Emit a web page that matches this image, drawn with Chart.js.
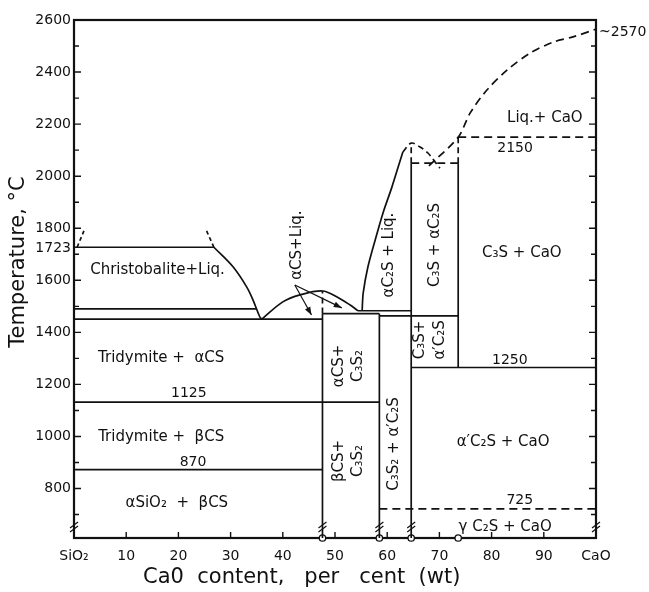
<!DOCTYPE html>
<html>
<head>
<meta charset="utf-8">
<script src="https://cdn.jsdelivr.net/npm/chart.js@4/dist/chart.umd.min.js"></script>
<style>
  html, body { margin: 0; padding: 0; background: #fff; }
  canvas { display: block; }
</style>
</head>
<body>
<canvas id="phase" width="649" height="592"></canvas>
<script>
const FONT = "DejaVu Sans, Verdana, sans-serif";
const INK = "#111";

// axes
const tempMin = 610;
const tempMax = 2600;
const tempTicks = [800, 1000, 1200, 1400, 1600, 1723, 1800, 2000, 2200, 2400, 2600];

// horizontal boundaries (solid)
const tieT = [1727, 1490, 1451, 1132, 873, 1472, 1483, 1463, 1265];
const tieFrom = [0, 0, 0, 0, 0, 47.6, 54.4, 58.5, 64.6];
const tieTo = [26.8, 35.0, 47.6, 58.5, 47.6, 58.5, 64.6, 73.6, 100];

// horizontal boundaries (dashed)
const dashT = [722, 2150, 2050];
const dashFrom = [58.5, 73.6, 64.6];
const dashTo = [100, 100, 73.6];

// compound verticals: CS, C3S2, C2S, C3S
const phaseX = [47.6, 58.5, 64.6, 73.6];
const phaseTop = [1472, 1472, 2050, 2050];
const phaseBase = [610, 610, 610, 1265];

// dashed verticals above the compounds
const riseX = [47.6, 64.6, 73.6];
const riseTop = [1559, 2127, 2150];
const riseBase = [1472, 2050, 2050];

// liquidus curves
const silicaLiqX = [26.8, 30.5, 33.1, 34.3, 35.6, 36.0];
const silicaLiqT = [1727, 1651, 1574, 1524, 1459, 1451];
const csLiqX = [36.0, 40.0, 43.3, 47.6, 50.4, 52.9, 54.4];
const csLiqT = [1451, 1517, 1544, 1559, 1536, 1505, 1483];
const c2sLiqX = [55.2, 55.4, 56.3, 57.7, 59.2, 60.9, 62.1, 63.0];
const c2sLiqT = [1483, 1551, 1651, 1755, 1859, 1958, 2035, 2093];
const c2sTopX = [63.0, 64.6, 66.3, 67.8, 69.2, 70.1];
const c2sTopT = [2093, 2127, 2112, 2089, 2054, 2031];
const limeLiqX = [68.0, 73.6, 75.9, 79.1, 83.0, 87.4, 91.8, 95.6, 100];
const limeLiqT = [2040, 2150, 2243, 2331, 2408, 2473, 2515, 2535, 2565];
const gapLeftX = [0.6, 1.9];
const gapLeftT = [1727, 1790];
const gapRightX = [25.4, 26.8];
const gapRightT = [1790, 1727];

// arrows from the αCS+Liq. label
const arrowX0 = [42.3, 42.3];
const arrowT0 = [1582, 1582];
const arrowX1 = [45.5, 51.3];
const arrowT1 = [1467, 1494];

// axis breaks
const breakX = [0, 47.6, 58.5, 64.6, 100];
const breakT = 652;

// field labels
const fieldText = [
  "Christobalite+Liq.", "Tridymite +  αCS", "Tridymite +  βCS", "αSiO₂  +  βCS",
  "αCS+Liq.", "αC₂S + Liq.", "C₃S + αC₂S", "C₃S+", "α′C₂S", "αCS+", "C₃S₂", "βCS+", "C₃S₂",
  "C₃S₂ + α′C₂S", "α′C₂S + CaO", "γ C₂S + CaO", "C₃S + CaO", "Liq.+ CaO"
];
const fieldX = [16.0, 16.7, 16.7, 19.7, 42.7, 60.3, 69.2, 66.3, 70.1, 50.8, 54.4, 50.8, 54.4,
  61.3, 82.2, 82.6, 85.8, 90.2];
const fieldT = [1640, 1301, 998, 744, 1735, 1697, 1736, 1371, 1371, 1271, 1271, 906, 906,
  971, 979, 652, 1705, 2224];
const fieldUpright = [true, true, true, true, false, false, false, false, false, false, false, false, false,
  false, true, true, true, true];

// isotherm values written on the diagram
const isoText = ["1125", "870", "725", "1250", "2150"];
const isoX = [22.0, 22.8, 85.4, 83.5, 84.5];
const isoT = [1167, 902, 756, 1294, 2108];
const meltNote = "~2570";
const meltNoteT = 2554;

const xTitle = "Ca0  content,   per   cent  (wt)";
const yTitle = "Temperature, °C";

function pts(xs, ys) { return xs.map((x, i) => ({ x, y: ys[i] })); }
function seg(x1, y1, x2, y2) { return [{ x: x1, y: y1 }, { x: x2, y: y2 }]; }
function lineDs(data, extra = {}) {
  return Object.assign({
    data, borderColor: INK, borderWidth: 1.7, pointRadius: 0, fill: false,
    tension: 0, clip: false
  }, extra);
}

const DASH = [8, 5];
const datasets = [];
tieT.forEach((t, i) => datasets.push(lineDs(seg(tieFrom[i], t, tieTo[i], t))));
dashT.forEach((t, i) => datasets.push(lineDs(seg(dashFrom[i], t, dashTo[i], t), { borderDash: DASH })));
phaseX.forEach((c, i) => datasets.push(lineDs(seg(c, phaseBase[i], c, phaseTop[i]))));
riseX.forEach((c, i) => datasets.push(lineDs(seg(c, riseBase[i], c, riseTop[i]), { borderDash: [6, 4] })));
datasets.push(lineDs(pts(silicaLiqX, silicaLiqT), { tension: 0.35 }));
datasets.push(lineDs(pts(csLiqX, csLiqT), { tension: 0.35 }));
datasets.push(lineDs(pts(c2sLiqX, c2sLiqT), { tension: 0.3 }));
datasets.push(lineDs(pts(c2sTopX, c2sTopT), { tension: 0.35, borderDash: [6, 4] }));
datasets.push(lineDs(pts(limeLiqX, limeLiqT), { tension: 0.3, borderDash: DASH }));
datasets.push(lineDs(pts(gapLeftX, gapLeftT), { borderDash: [4, 3] }));
datasets.push(lineDs(pts(gapRightX, gapRightT), { borderDash: [4, 3] }));
arrowX0.forEach((x0, i) => datasets.push(lineDs(seg(x0, arrowT0[i], arrowX1[i], arrowT1[i]), { borderWidth: 1.2 })));
datasets.push(lineDs(phaseX.map((c) => ({ x: c, y: tempMin })), {
  showLine: false, pointRadius: 3.2, pointBackgroundColor: "#fff",
  pointBorderColor: INK, pointBorderWidth: 1.3
}));

const decor = {
  id: "decor",
  beforeDraw(chart) {
    const { ctx, width, height } = chart;
    ctx.save();
    ctx.fillStyle = "#fff";
    ctx.fillRect(0, 0, width, height);
    ctx.restore();
  },
  beforeDatasetsDraw(chart) {
    const { ctx, chartArea: a, scales: { x, y } } = chart;
    ctx.save();
    ctx.strokeStyle = INK;
    ctx.lineWidth = 2.2;
    ctx.strokeRect(a.left, a.top, a.right - a.left, a.bottom - a.top);
    ctx.lineWidth = 1.4;
    ctx.beginPath();
    for (let t = 700; t < tempMax; t += 100) {
      const py = y.getPixelForValue(t);
      const len = t % 200 === 0 ? 7 : 5;
      ctx.moveTo(a.left, py); ctx.lineTo(a.left + len, py);
      ctx.moveTo(a.right, py); ctx.lineTo(a.right - len, py);
    }
    for (let c = 10; c < 100; c += 10) {
      const px = x.getPixelForValue(c);
      ctx.moveTo(px, a.bottom); ctx.lineTo(px, a.bottom - 6);
    }
    ctx.stroke();
    ctx.restore();
  },
  afterDatasetsDraw(chart) {
    const { ctx, chartArea: a, scales: { x, y } } = chart;
    ctx.save();
    ctx.strokeStyle = INK;
    ctx.fillStyle = INK;

    // break marks
    ctx.lineWidth = 1.2;
    ctx.beginPath();
    breakX.forEach((c) => {
      const px = x.getPixelForValue(c), py = y.getPixelForValue(breakT);
      ctx.moveTo(px - 4, py + 1); ctx.lineTo(px + 4, py - 5);
      ctx.moveTo(px - 4, py + 5); ctx.lineTo(px + 4, py - 1);
    });
    ctx.stroke();

    // arrow heads
    arrowX1.forEach((x1, i) => {
      const sx = x.getPixelForValue(arrowX0[i]), sy = y.getPixelForValue(arrowT0[i]);
      const ex = x.getPixelForValue(x1), ey = y.getPixelForValue(arrowT1[i]);
      const ang = Math.atan2(ey - sy, ex - sx);
      ctx.beginPath();
      ctx.moveTo(ex, ey);
      ctx.lineTo(ex - 8 * Math.cos(ang) + 3 * Math.sin(ang), ey - 8 * Math.sin(ang) - 3 * Math.cos(ang));
      ctx.lineTo(ex - 8 * Math.cos(ang) - 3 * Math.sin(ang), ey - 8 * Math.sin(ang) + 3 * Math.cos(ang));
      ctx.closePath();
      ctx.fill();
    });

    // field labels
    ctx.textAlign = "center";
    ctx.textBaseline = "middle";
    ctx.font = `15px ${FONT}`;
    fieldText.forEach((txt, i) => {
      const px = x.getPixelForValue(fieldX[i]), py = y.getPixelForValue(fieldT[i]);
      ctx.save();
      ctx.translate(px, py);
      if (!fieldUpright[i]) ctx.rotate(-Math.PI / 2);
      ctx.fillText(txt, 0, 0);
      ctx.restore();
    });
    ctx.font = `14px ${FONT}`;
    isoText.forEach((txt, i) => {
      ctx.fillText(txt, x.getPixelForValue(isoX[i]), y.getPixelForValue(isoT[i]));
    });
    ctx.textAlign = "left";
    ctx.fillText(meltNote, a.right + 3, y.getPixelForValue(meltNoteT));

    // axis titles
    ctx.font = `21px ${FONT}`;
    ctx.textAlign = "left";
    ctx.fillText(xTitle, 143, 578);
    ctx.textAlign = "center";
    ctx.translate(19, 262);
    ctx.rotate(-Math.PI / 2);
    ctx.fillText(yTitle, 0, 0);
    ctx.restore();
  }
};

new Chart(document.getElementById("phase"), {
  type: "line",
  data: { datasets },
  plugins: [decor],
  options: {
    responsive: false,
    animation: false,
    events: [],
    layout: { padding: { top: 20, right: 53, left: 0, bottom: 0 } },
    plugins: { legend: { display: false }, tooltip: { enabled: false } },
    scales: {
      x: {
        type: "linear",
        min: 0,
        max: 100,
        grid: { display: false, drawTicks: false },
        border: { display: false },
        ticks: {
          stepSize: 10,
          autoSkip: false,
          maxRotation: 0,
          padding: 10,
          color: INK,
          font: { family: FONT, size: 14 },
          callback: (v) => (v === 0 ? "SiO₂" : v === 100 ? "CaO" : String(v))
        },
        afterFit: (scale) => { scale.height = 54; }
      },
      y: {
        type: "linear",
        min: tempMin,
        max: tempMax,
        grid: { display: false, drawTicks: false },
        border: { display: false },
        afterBuildTicks: (scale) => { scale.ticks = tempTicks.map((v) => ({ value: v })); },
        ticks: {
          padding: 3,
          color: INK,
          font: { family: FONT, size: 14 },
          callback: (v) => String(v)
        },
        afterFit: (scale) => { scale.width = 74; }
      }
    }
  }
});
</script>
</body>
</html>
